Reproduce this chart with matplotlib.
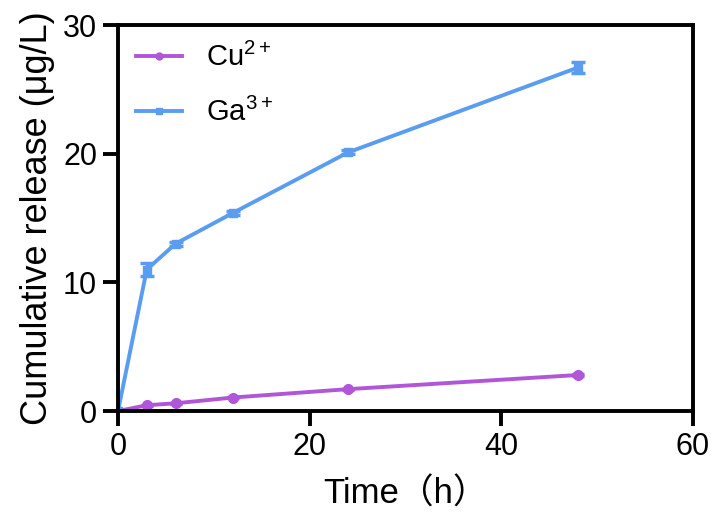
import matplotlib.pyplot as plt
from matplotlib.lines import Line2D

plt.rcParams['font.family'] = ['Liberation Sans', 'Noto Sans CJK SC', 'DejaVu Sans']
plt.rcParams['mathtext.fontset'] = 'custom'
plt.rcParams['mathtext.rm'] = 'Liberation Sans'

time_h = [0, 3, 6, 12, 24, 48]
cu = [0, 0.45, 0.6, 1.05, 1.7, 2.8]
cu_err = [0, 0.05, 0.05, 0.05, 0.05, 0.05]
ga = [0, 11.0, 13.0, 15.4, 20.1, 26.7]
ga_err = [0, 0.5, 0.15, 0.15, 0.15, 0.4]

cu_color = '#B256D9'
ga_color = '#5A9CF0'

fig = plt.figure(figsize=(7.17, 5.22), dpi=100)
ax = fig.add_axes([0.1646, 0.2126, 0.8019, 0.7394])

ax.errorbar(time_h, cu, yerr=cu_err, color=cu_color, marker='o', markersize=7,
            linewidth=2.8, capsize=4, capthick=2.5, elinewidth=2.5)
ax.errorbar(time_h, ga, yerr=ga_err, color=ga_color, marker='s', markersize=6,
            linewidth=2.8, capsize=5, capthick=2.5, elinewidth=2.5)

ax.set_xlim(0, 60)
ax.set_ylim(0, 30)
ax.set_xticks([0, 20, 40, 60])
ax.set_yticks([0, 10, 20, 30])
for s in ax.spines.values():
    s.set_linewidth(2.8)
ax.tick_params(direction='out', length=11, width=2.8, labelsize=22, pad=4)
ax.set_xlabel('Time（h）', fontsize=25, labelpad=11)
ax.set_ylabel('Cumulative release (μg/L)', fontsize=26, labelpad=6)

handles = [Line2D([], [], color=cu_color, marker='o', markersize=5, linewidth=2.8),
           Line2D([], [], color=ga_color, marker='s', markersize=5, linewidth=2.8)]
labels = ['Cu$^{\\mathregular{2+}}$', 'Ga$^{\\mathregular{3+}}$']
ax.legend(handles, labels, loc='upper left', frameon=False, fontsize=21,
          handlelength=1.6, handletextpad=0.8, borderaxespad=0.2, labelspacing=0.9)

fig.savefig('out.png', dpi=100)
